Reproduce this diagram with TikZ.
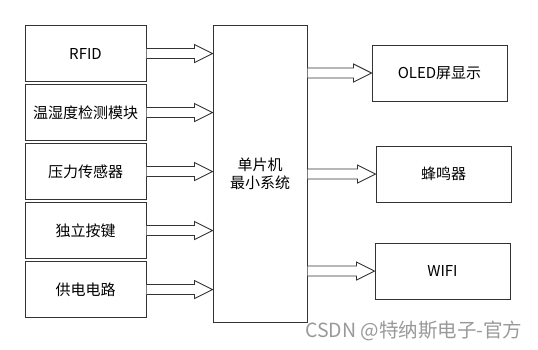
\documentclass[tikz,border=0pt]{standalone}
\usepackage{fontspec}
\setmainfont{Noto Sans CJK SC}
\usepackage{tikz}
\usetikzlibrary{positioning,calc}

% hollow block arrow from #1 to #2
\newcommand{\fatarrow}[2]{%
  \draw[fat] ($(#1)+(0,-5)$) -- ($(#2)+(-18,-5)$) -- ($(#2)+(-18,-9)$) -- (#2)
    -- ($(#2)+(-18,9)$) -- ($(#2)+(-18,5)$) -- ($(#1)+(0,5)$);}

\begin{document}
\begin{tikzpicture}[
        x=1pt, y=-1pt,
        node distance=2pt,
        box/.style={draw=black!80, line width=1pt, minimum width=121pt, minimum height=56pt, align=center, font=\fontsize{15}{18}\selectfont, inner sep=0pt},
        fat/.style={draw=black!80, line width=0.9pt, fill=white, line join=miter}
    ]
    \useasboundingbox (0,0) rectangle (538,349);
    \node[box] (rfid) at (85.5,53.5) {RFID};
    \node[box, below=of rfid] (wsd) {温湿度检测模块};
    \node[box, below=of wsd] (yali) {压力传感器};
    \node[box, below=of yali] (anjian) {独立按键};
    \node[box, below=of anjian] (gongdian) {供电电路};
    \node[box, minimum width=94pt, minimum height=297pt] (mcu) at (260,173.5) {单片机\\最小系统};
    \node[box, minimum width=135pt, minimum height=56pt] (oled) at (439.5,73) {OLED屏显示};
    \node[box, minimum width=135pt, minimum height=56pt] (beep) at (443.5,174) {蜂鸣器};
    \node[box, minimum width=135pt, minimum height=56pt] (wifi) at (442.5,271) {WIFI};
    \node[text=black!40, font=\fontsize{19.5}{22}\selectfont, anchor=west, inner sep=0pt] (csdn) at (305,331) {CSDN @特纳斯电子-官方};

    \foreach \n in {rfid, wsd, yali, anjian, gongdian}
        \fatarrow{\n.east}{mcu.west |- \n.east};
    \foreach \n in {oled, beep, wifi}
        \fatarrow{mcu.east |- \n.west}{\n.west};
\end{tikzpicture}
\end{document}
